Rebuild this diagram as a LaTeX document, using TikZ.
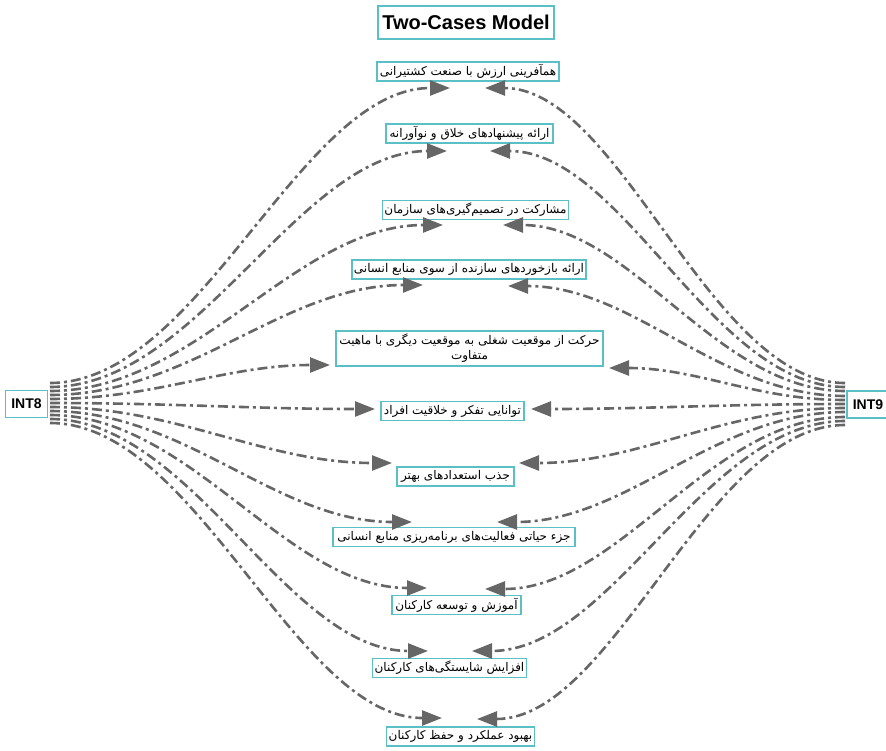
\documentclass[tikz,border=0pt]{standalone}
\usepackage{fontspec}
\setmainfont{Liberation Sans}
\newfontfamily\arabicfont[Script=Arabic]{DejaVu Sans}
\TeXXeTstate=1
\usetikzlibrary{arrows.meta}
\definecolor{boxc}{HTML}{5BBFC6}
\definecolor{edgec}{HTML}{666666}
\newcommand{\fa}[1]{\beginR #1\endR}
\begin{document}
\begin{tikzpicture}[x=1pt,y=-1pt,
 box/.style={draw=boxc,line width=1.3pt,fill=white,inner xsep=2pt,inner ysep=1pt,
   font=\arabicfont\fontsize{12}{15}\selectfont,text=black,minimum height=19pt},
 endbox/.style={draw=boxc,line width=1.3pt,fill=white,inner sep=1pt,
   font=\bfseries\fontsize{14}{16}\selectfont,minimum width=42pt,minimum height=27pt},
 edge/.style={draw=edgec,line width=2.6pt,dash pattern=on 10pt off 4pt on 3pt off 4pt,
   -{Triangle[length=20pt,width=15pt]}}]
\useasboundingbox (0,0) rectangle (886,750);

\node[draw=boxc,line width=1.3pt,font=\bfseries\fontsize{20}{23}\selectfont,
  minimum width=176pt,minimum height=33pt,inner sep=1pt] (title) at (466,22.5) {Two-Cases Model};

\node[endbox] (int8) at (26.5,404) {INT8};
\node[endbox] (int9) at (868,404.5) {INT9};

\node[box,minimum width=182pt] (n1) at (468,71.5) {\fa{همآفرینی ارزش با صنعت کشتیرانی}};
\node[box,minimum width=167pt] (n2) at (469.5,133.5) {\fa{ارائه پیشنهادهای خلاق و نوآورانه}};
\node[box,minimum width=185pt] (n3) at (475.5,210) {\fa{مشارکت در تصمیم‌گیری‌های سازمان}};
\node[box,minimum width=234pt] (n4) at (469,269.5) {\fa{ارائه بازخوردهای سازنده از سوی منابع انسانی}};
\node[box,minimum width=267pt,minimum height=35pt,align=center,inner ysep=0pt] (n5) at (469.5,348.5)
  {\fa{حرکت از موقعیت شغلی به موقعیت دیگری با ماهیت}\\\fa{متفاوت}};
\node[box,minimum width=143pt] (n6) at (452.5,411) {\fa{توانایی تفکر و خلاقیت افراد}};
\node[box,minimum width=117pt] (n7) at (455.5,476.5) {\fa{جذب استعدادهای بهتر}};
\node[box,minimum width=242pt] (n8) at (454,537) {\fa{جزء حیاتی فعالیت‌های برنامه‌ریزی منابع انسانی}};
\node[box,minimum width=129pt] (n9) at (456.5,605) {\fa{آموزش و توسعه کارکنان}};
\node[box,minimum width=153pt] (n10) at (449.5,668) {\fa{افزایش شایستگی‌های کارکنان}};
\node[box,minimum width=145pt] (n11) at (460.5,736.5) {\fa{بهبود عملکرد و حفظ کارکنان}};

% start points on INT8 side
\foreach \i/\y in {1/383,2/387,3/391,4/395,5/399,6/403,7/407,8/411,9/415,10/419,11/423}
  \coordinate (a\i) at (50,\y);
% start points on INT9 side
\foreach \i/\y in {1/383,2/387,3/391,4/396,5/400,6/404,7/408,8/412,9/417,10/421,11/425}
  \coordinate (b\i) at (845,\y);
% arrow tips
\coordinate (l1) at (450,88);  \coordinate (r1) at (485,88);
\coordinate (l2) at (447,151); \coordinate (r2) at (490,151);
\coordinate (l3) at (443,225); \coordinate (r3) at (503,225);
\coordinate (l4) at (423,285); \coordinate (r4) at (508,286);
\coordinate (l5) at (330,365); \coordinate (r5) at (609,368);
\coordinate (l6) at (375,409); \coordinate (r6) at (531,409);
\coordinate (l7) at (392,463); \coordinate (r7) at (519,463);
\coordinate (l8) at (412,522); \coordinate (r8) at (497,522);
\coordinate (l9) at (427,588); \coordinate (r9) at (485,589);
\coordinate (l10) at (428,651); \coordinate (r10) at (472,651);
\coordinate (l11) at (442,718); \coordinate (r11) at (477,719);

\foreach \i/\c in {1/150,2/149,3/147,4/140,5/105,6/122,7/128,8/136,9/141,10/142,11/147}
  \draw[edge] (a\i) .. controls +(\c,0) and +(-\c,0) .. (l\i);
\foreach \i/\c in {1/135,2/133,3/128,4/126,5/89,6/118,7/122,8/130,9/135,10/140,11/138}
  \draw[edge] (b\i) .. controls +(-\c,0) and +(\c,0) .. (r\i);
\end{tikzpicture}
\end{document}
